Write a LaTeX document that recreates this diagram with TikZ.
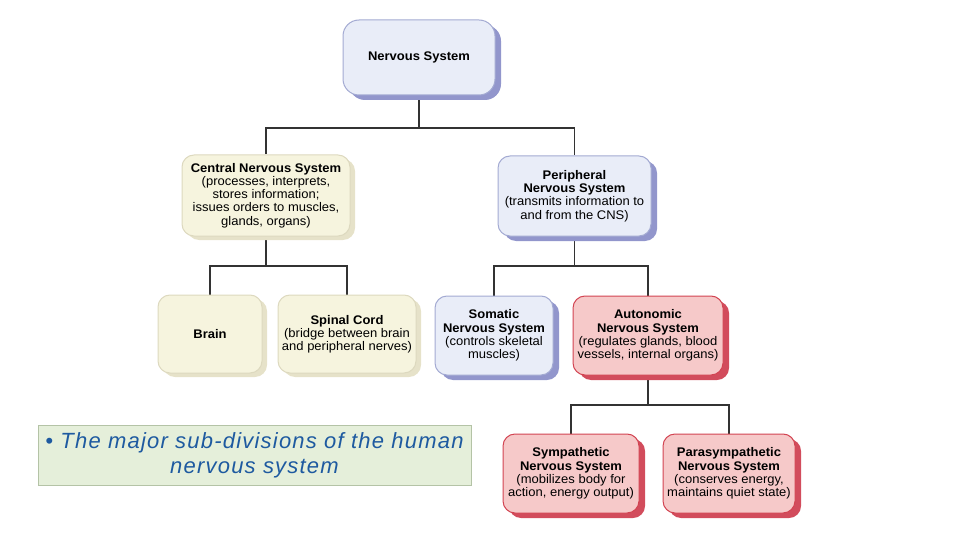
\documentclass[tikz,border=0pt]{standalone}
\usepackage{fontspec}
\usepackage{xcolor}
\usepackage{tikz}
\usetikzlibrary{shadows,backgrounds}

\newfontfamily\boxfont[FakeStretch=1.04]{Liberation Sans}
\newfontfamily\captfont[LetterSpace=5.5]{Liberation Sans}

\definecolor{bluefill}{HTML}{E9EDF8}
\definecolor{blueline}{HTML}{A3AAD2}
\definecolor{blueshade}{HTML}{9296CC}
\definecolor{creamfill}{HTML}{F6F4DE}
\definecolor{creamline}{HTML}{DDD9BF}
\definecolor{creamshade}{HTML}{E6E2C9}
\definecolor{redfill}{HTML}{F6C9C9}
\definecolor{redline}{HTML}{D24452}
\definecolor{redshade}{HTML}{D24C5C}
\definecolor{captfill}{HTML}{E5EFDA}
\definecolor{captline}{HTML}{B4C3A6}
\definecolor{capttext}{HTML}{1E5AA0}

\begin{document}
\begin{tikzpicture}[x=1pt,y=-1pt,
  box/.style={rounded corners=12pt, align=center, inner sep=0pt, line width=1pt,
    font=\boxfont\fontsize{12.5}{13.2}\selectfont},
  bluebox/.style={box, fill=bluefill, draw=blueline,
    drop shadow={shadow xshift=6pt, shadow yshift=-5pt, fill=blueshade, opacity=1}},
  creambox/.style={box, fill=creamfill, draw=creamline,
    drop shadow={shadow xshift=5pt, shadow yshift=-4pt, fill=creamshade, opacity=1}},
  redbox/.style={box, fill=redfill, draw=redline,
    drop shadow={shadow xshift=6pt, shadow yshift=-5pt, fill=redshade, opacity=1}},
  link/.style={line width=1.9pt, draw=black!80}]

  \useasboundingbox (0,0) rectangle (960,540);

  % boxes
  \node[bluebox, rounded corners=16pt, minimum width=152pt, minimum height=75pt] (ns) at (419,57.5) {\textbf{Nervous System}};
  \node[creambox, minimum width=168pt, minimum height=81pt] (cns) at (266,195.5)
    {\textbf{Central Nervous System}\\(processes, interprets,\\stores information;\\issues orders to muscles,\\glands, organs)};
  \node[bluebox, minimum width=153pt, minimum height=80pt] (pns) at (574.5,196)
    {\textbf{Peripheral}\\\textbf{Nervous System}\\(transmits information to\\and from the CNS)};
  \node[creambox, minimum width=104pt, minimum height=78pt] (brain) at (210,334) {\textbf{Brain}};
  \node[creambox, minimum width=138pt, minimum height=78pt] (spinal) at (347,334)
    {\textbf{Spinal Cord}\\(bridge between brain\\and peripheral nerves)};
  \node[bluebox, minimum width=118pt, minimum height=79pt] (somatic) at (494,335.5)
    {\textbf{Somatic}\\\textbf{Nervous System}\\(controls skeletal\\muscles)};
  \node[redbox, minimum width=150pt, minimum height=79pt] (auto) at (648,335.5)
    {\textbf{Autonomic}\\\textbf{Nervous System}\\(regulates glands, blood\\vessels, internal organs)};
  \node[redbox, minimum width=136pt, minimum height=79pt] (symp) at (571,473.5)
    {\textbf{Sympathetic}\\\textbf{Nervous System}\\(mobilizes body for\\action, energy output)};
  \node[redbox, minimum width=132pt, minimum height=79pt] (para) at (729,473.5)
    {\textbf{Parasympathetic}\\\textbf{Nervous System}\\(conserves energy,\\maintains quiet state)};

  % caption
  \node[fill=captfill, draw=captline, line width=0.8pt, minimum width=433pt, minimum height=60pt,
    inner sep=0pt, align=center, text=capttext, font=\captfont\itshape\fontsize{22}{25}\selectfont]
    (capt) at (254.5,455) {\textbullet\ The major sub-divisions of the human\\nervous system};

  % connectors
  \coordinate (nsbar) at (418,128);
  \coordinate (cnsbar) at (267,266);
  \coordinate (pnsbar) at (574,266);
  \coordinate (autobar) at (651,405);
  \begin{scope}[on background layer]
    \draw[link] (ns.south) -- (ns.south |- nsbar);
    \draw[link] (cns.north) |- (nsbar) -| (pns.north);
    \draw[link] (cns.south) -- (cns.south |- cnsbar);
    \draw[link] (brain.north) |- (cnsbar) -| (spinal.north);
    \draw[link] (pns.south) -- (pns.south |- pnsbar);
    \draw[link] (somatic.north) |- (pnsbar) -| (auto.north);
    \draw[link] (auto.south) -- (auto.south |- autobar);
    \draw[link] (symp.north) |- (autobar) -| (para.north);
  \end{scope}

\end{tikzpicture}
\end{document}
